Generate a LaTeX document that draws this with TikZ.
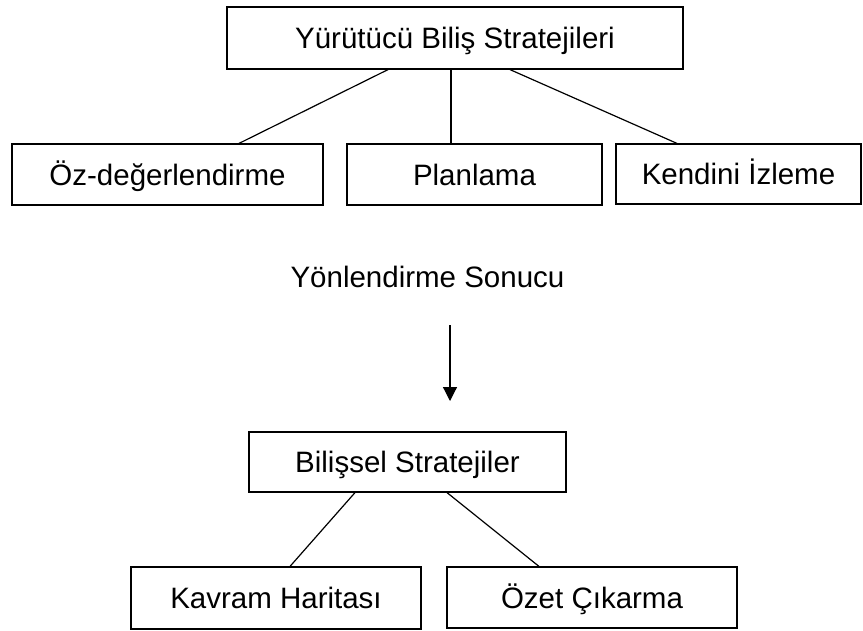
\documentclass[tikz,border=0pt]{standalone}
\usepackage{fontspec}
\setmainfont{Liberation Sans}
\usetikzlibrary{arrows.meta}
\begin{document}
\begin{tikzpicture}[x=1pt,y=-1pt,
  box/.style={draw=black,line width=1.2pt,inner sep=0pt,text height=21pt,text depth=0pt,font=\fontsize{29.5}{34}\selectfont},
  conn/.style={line width=1.2pt,draw=black},
  lbl/.style={inner sep=0pt,text height=21pt,text depth=0pt,font=\fontsize{29.5}{34}\selectfont}]
\useasboundingbox (0,0) rectangle (863,630);
\node[box,minimum width=456pt,minimum height=62pt] (T) at (455,38) {Yürütücü Biliş Stratejileri};
\node[box,minimum width=311pt,minimum height=61pt] (A) at (167.5,174.5) {Öz-değerlendirme};
\node[box,minimum width=255pt,minimum height=61pt] (B) at (474.5,174.5) {Planlama};
\node[box,minimum width=245pt,minimum height=60pt] (C) at (738.5,174) {Kendini İzleme};
\node[lbl] (Y) at (427.5,276.5) {Yönlendirme Sonucu};
\coordinate (s) at (450,325);
\coordinate (e) at (450,401);
\node[box,minimum width=317pt,minimum height=60pt] (D) at (407.5,462) {Bilişsel Stratejiler};
\node[box,minimum width=290pt,minimum height=62pt] (E) at (276,598) {Kavram Haritası};
\node[box,minimum width=290pt,minimum height=61pt] (F) at (592,597.5) {Özet Çıkarma};
\draw[conn] ([xshift=-67pt]T.south) -- ([xshift=71.5pt]A.north);
\draw[conn] ([xshift=-4pt]T.south) -- ([xshift=-23.5pt]B.north);
\draw[conn] ([xshift=55pt]T.south) -- ([xshift=-61.5pt]C.north);
\draw[conn,-{Triangle[length=14pt,width=14pt]}] (s) -- (e);
\draw[conn] ([xshift=-52.5pt]D.south) -- ([xshift=14pt]E.north);
\draw[conn] ([xshift=39.5pt]D.south) -- ([xshift=-53pt]F.north);
\end{tikzpicture}
\end{document}
